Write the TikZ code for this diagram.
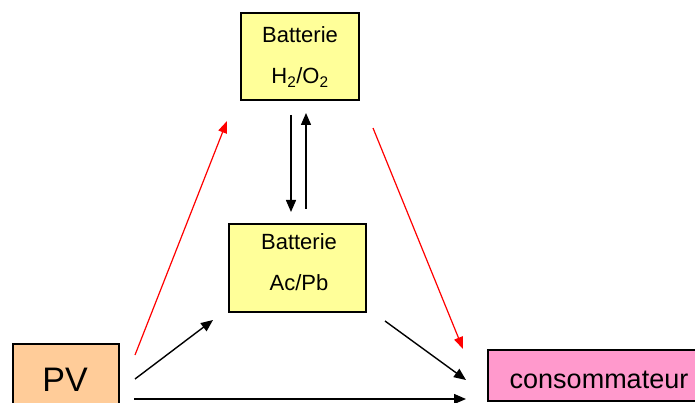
\documentclass[tikz,border=0pt]{standalone}
\usepackage{fontspec}
\setmainfont{Liberation Sans}
\usetikzlibrary{arrows.meta}
\definecolor{boxyellow}{HTML}{FFFF99}
\definecolor{boxorange}{HTML}{FFCC99}
\definecolor{boxpink}{HTML}{FF99CC}
\tikzset{
  boxshape/.style={draw=black, line width=1.1pt, inner sep=0pt},
  lbl/.style={inner sep=0pt, anchor=base},
  blackarrow/.style={line width=1.4pt, -{Triangle[length=12pt,width=10pt]}},
  redarrow/.style={draw=red, line width=1.2pt, -{Triangle[length=12pt,width=9pt]}, red},
}
\begin{document}
\begin{tikzpicture}[x=1pt,y=-1pt]
\useasboundingbox (0,0) rectangle (695,403);
\clip (0,0) rectangle (695,403);
% boxes
\node[boxshape, fill=boxyellow, minimum width=118pt, minimum height=87pt] (h2o2) at (300,56.5) {};
\node[boxshape, fill=boxyellow, minimum width=137pt, minimum height=88pt] (acpb) at (297.5,268) {};
\node[boxshape, fill=boxorange, minimum width=106pt, minimum height=70pt] (pv) at (66,379) {};
\node[boxshape, fill=boxpink, minimum width=224pt, minimum height=51pt] (cons) at (600,375.5) {};
% texts
\node[lbl, font=\fontsize{22}{22}\selectfont] (t1) at (300,43) {Batterie};
\node[lbl, font=\fontsize{22}{22}\selectfont] (t2) at (300,84) {H\textsubscript{2}/O\textsubscript{2}};
\node[lbl, font=\fontsize{22}{22}\selectfont] (t3) at (299,249) {Batterie};
\node[lbl, font=\fontsize{22}{22}\selectfont] (t4) at (299,290) {Ac/Pb};
\node[lbl, font=\fontsize{34}{34}\selectfont] (t5) at (65,391) {PV};
\node[lbl, font=\fontsize{27}{27}\selectfont] (t6) at (599,388) {consommateur};
% arrow end points
\coordinate (d1) at (291,115);
\coordinate (d2) at (291,212);
\coordinate (u1) at (306,209);
\coordinate (u2) at (306,113);
\coordinate (r1) at (135,355);
\coordinate (r2) at (227,121);
\coordinate (r3) at (373,128);
\coordinate (r4) at (463,349);
\coordinate (b1) at (135,379);
\coordinate (b2) at (213,320);
\coordinate (b3) at (385,321);
\coordinate (b4) at (466,380);
\coordinate (h1) at (134,399);
\coordinate (h2) at (466,399);
% arrows
\draw[blackarrow] (d1) -- (d2);
\draw[blackarrow] (u1) -- (u2);
\draw[redarrow] (r1) -- (r2);
\draw[redarrow] (r3) -- (r4);
\draw[blackarrow] (b1) -- (b2);
\draw[blackarrow] (b3) -- (b4);
\draw[blackarrow] (h1) -- (h2);
\end{tikzpicture}
\end{document}
